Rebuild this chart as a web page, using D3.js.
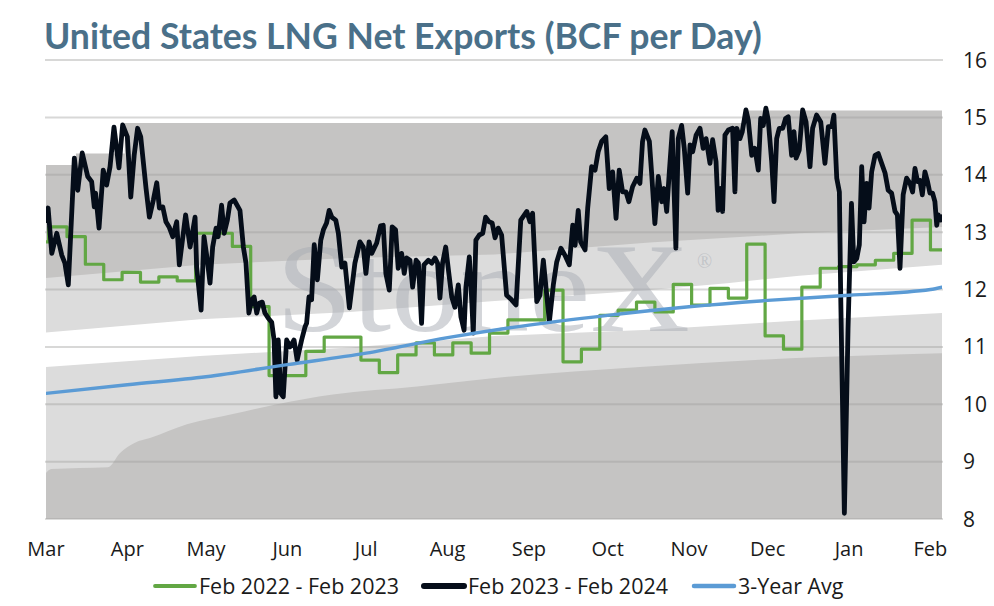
<!DOCTYPE html>
<html><head><meta charset="utf-8">
<script src="https://cdn.jsdelivr.net/npm/d3@7"></script>
<style>body{margin:0;background:#fff;} svg{display:block;font-family:"Open Sans",Lato,sans-serif;}</style>
</head><body><svg id="c" width="994" height="606"></svg>
<script>
// ---------- data ----------
const chartTitle = "United States LNG Net Exports (BCF per Day)";
const monthLabels = ["Mar","Apr","May","Jun","Jul","Aug","Sep","Oct","Nov","Dec","Jan","Feb"];
const yTickValues = [8,9,10,11,12,13,14,15,16];
const seriesNames = ["Feb 2022 - Feb 2023","Feb 2023 - Feb 2024","3-Year Avg"];
const watermarkText = "StoneX";
const startDate = new Date(2023, 2, 1);
const endDay = 341.4;   // days after Mar 1

// Feb 2023 - Feb 2024 (daily, days after Mar 1)
const blackDays = [0,0.8,2.2,4.1,6.0,7.2,8.5,10.8,12.1,13.8,15.9,17.4,18.4,18.9,20.2,21.8,23.1,24.4,25.9,27.8,29.2,31.0,32.3,33.6,34.9,36.1,38.1,39.4,40.9,42.2,43.2,44.5,45.7,46.9,48.3,49.8,50.8,53.2,54.9,56.8,57.4,59.1,60.2,61.3,62.5,63.5,64.8,65.6,66.9,67.9,69.1,70.1,71.7,73.9,75.2,76.2,77.3,78.4,79.3,80.3,81.2,82.4,83.4,84.7,86.0,86.9,87.6,88.5,89.4,90.4,91.7,93.0,94.5,95.7,97.4,98.7,99.3,100.2,101.2,102.2,103.4,104.7,105.7,106.9,107.9,108.9,110.4,111.4,112.7,113.9,115.6,117.7,119.6,120.9,121.9,123.1,124.1,126.0,127.5,128.5,129.5,130.8,131.9,133.2,134.2,135.5,136.5,137.4,138.7,139.7,141.0,141.9,143.1,144.0,145.7,147.0,148.2,149.2,150.1,151.1,152.3,153.5,154.6,155.8,157.1,158.1,159.3,160.0,161.3,162.2,162.8,163.8,165.1,166.4,167.5,168.8,170.0,171.1,172.3,173.6,175.5,177.4,179.1,180.9,183.2,184.4,185.4,187.0,188.2,189.5,190.8,191.8,193.3,194.6,196.2,197.7,199.4,200.7,201.6,202.8,203.7,205.4,206.4,207.9,209.2,210.4,211.7,213.3,214.6,215.9,217.2,218.4,219.7,221.0,222.1,223.5,225.1,226.3,227.3,228.2,229.9,230.8,232.0,233.3,234.6,235.5,236.5,237.5,238.6,240.0,240.9,242.2,243.2,244.5,245.4,246.4,247.7,249.2,250.4,251.5,253.0,254.0,255.3,256.1,257.1,257.8,258.7,260.0,261.6,262.5,263.2,264.4,265.3,266.7,267.6,268.9,270.1,271.4,272.3,273.3,274.3,275.2,276.5,277.4,278.4,279.4,280.7,281.8,282.8,284.1,285.0,285.8,287.0,288.3,289.6,291.1,292.1,293.6,295.2,296.8,298.1,299.4,300.2,301.3,302.3,302.8,304.2,305.6,306.9,307.8,308.9,309.9,310.8,311.7,312.7,313.6,314.6,315.9,317.1,318.4,319.7,320.9,322.2,323.5,324.4,325.4,326.6,327.9,329.2,330.2,331.1,332.1,333.0,333.9,334.9,335.9,336.8,337.8,338.7,339.4,340.0,340.9,341.4];
const blackValues = [13.2,13.42,12.63,12.98,12.6,12.46,12.08,14.29,13.73,14.38,13.97,13.88,13.44,13.68,13.07,14.08,13.82,14.14,14.83,14.12,14.87,14.66,13.61,14.34,14.81,14.66,13.77,13.26,13.56,13.86,13.42,13.44,13.18,13.09,12.92,13.18,12.43,13.3,12.74,13.26,12.39,11.64,12.92,12.57,12.11,12.74,13.07,12.92,13.47,12.98,13.21,13.51,13.56,13.38,12.74,12.46,11.59,11.82,11.87,11.59,11.76,11.78,11.59,11.5,11.43,11.12,10.13,11.12,10.19,10.13,11.12,11.0,11.12,10.77,11.12,11.35,11.41,11.87,11.82,12.78,12.17,12.86,13.04,13.16,13.38,13.26,13.21,12.98,12.39,12.46,11.68,12.46,12.83,12.74,12.28,12.83,12.63,12.81,13.11,13.12,12.28,11.99,13.09,13.04,12.37,12.63,12.28,12.55,12.51,12.04,12.51,12.46,11.41,12.43,12.51,12.46,12.55,12.46,11.85,12.46,12.74,12.28,11.87,11.69,12.08,11.52,11.29,12.04,12.57,11.82,11.24,12.86,12.95,12.98,13.26,13.18,13.16,12.9,13.07,12.95,11.9,11.82,11.73,13.21,13.36,13.18,13.33,11.79,11.9,12.51,11.9,11.44,12.08,12.48,12.72,12.6,12.43,13.12,12.77,13.38,12.83,12.69,13.42,14.14,14.08,14.4,14.58,14.66,13.76,14.05,13.24,14.08,13.7,13.7,13.53,13.79,13.94,13.85,14.58,14.78,14.58,14.0,13.15,13.97,13.53,13.76,13.36,14.05,14.75,12.72,14.63,14.86,14.46,13.68,14.52,14.4,14.69,14.81,14.46,14.63,14.2,14.61,14.23,13.38,13.76,13.36,14.69,14.78,14.81,13.7,14.81,14.63,14.75,15.13,14.95,14.34,14.46,14.08,14.98,14.86,15.16,14.95,14.23,13.53,14.63,14.81,14.81,14.98,15.01,14.34,14.75,14.29,14.43,15.13,14.92,14.14,14.81,15.04,14.92,14.2,14.84,14.84,15.04,13.94,13.7,11.9,8.1,11.32,13.5,12.48,12.54,12.78,14.14,13.18,13.85,13.42,14.05,14.34,14.37,14.2,14.03,13.73,13.68,13.36,13.3,12.37,13.65,13.94,13.85,13.7,14.11,13.88,13.9,13.65,14.05,13.88,13.68,13.68,13.53,13.12,13.3,13.21,13.27];

// Feb 2022 - Feb 2023 (weekly)
const greenFirstValue = 12.83;
const greenFirstWeekDay = 1;
const greenWeekly = [13.09,12.92,12.44,12.17,12.30,12.13,12.22,12.15,12.98,12.98,12.75,11.70,10.5,10.5,10.92,11.17,11.17,10.77,10.55,10.86,11.07,10.86,11.07,10.89,11.24,11.47,11.47,11.99,10.74,10.96,11.55,11.64,11.78,11.61,12.09,11.73,12.02,11.85,12.79,11.19,10.96,12.04,12.37,12.40,12.43,12.51,12.63,13.21,12.69];

// 3-Year Avg
const blueDays = [0,31,61,92,122,153,184,214,245,275,306,337,341.4];
const blueValues = [10.19,10.34,10.48,10.69,10.89,11.16,11.38,11.55,11.70,11.81,11.90,12.00,12.04];

// historical range bands (boundaries from top to bottom)
const maxDays = [0,11.4,30,266,341.4];
const maxValues = [14.17,14.37,14.9,15.12,15.12];
const bandDays = [0,58.7,115.8,171,230,259.5,287,341.4];
const upperQValues = [12.2,12.43,12.55,12.61,12.82,12.9,12.98,13.09];
const upperMidValues = [11.25,11.48,11.61,11.8,11.99,12.11,12.24,12.43];
const lowerMidValues = [10.65,10.84,10.99,11.19,11.3,11.38,11.46,11.59];
const lowQDays = [0,2,23.6,28.2,33.9,39.6,53.7,71.2,88,109.3,141.4,169.2,226.3,283.5,341.4];
const lowQValues = [8.8,8.87,8.9,9.15,9.33,9.41,9.65,9.83,10.0,10.17,10.31,10.45,10.65,10.8,10.89];

// ---------- drawing ----------
const svg = d3.select("#c");
const L = 46, R = 942, T = 60, B = 519;
const dayToDate = d => new Date(startDate.getTime() + d * 864e5);
const x = d3.scaleTime().domain([startDate, dayToDate(endDay)]).range([L, R]);
const y = d3.scaleLinear().domain([8, 16]).range([B, T]);

const C = {dark:"#c5c4c3", light:"#dcdcdc", white:"#ffffff", green:"#62a744", black:"#050d19", blue:"#5b9bd5", title:"#4a7089", text:"#1a1a1a"};

const plot = svg.append("g");
svg.append("clipPath").attr("id","pc").append("rect").attr("x",L).attr("y",T-5).attr("width",R-L).attr("height",B-T+5);

function bandArea(days, vals, color, curve){
  const pts = days.map((d,i)=>[d, vals[i]]);
  const area = d3.area().x(p=>x(dayToDate(p[0]))).y0(y(8)).y1(p=>y(p[1])).curve(curve||d3.curveLinear);
  plot.append("path").datum(pts).attr("d", area).attr("fill", color);
}
bandArea(maxDays, maxValues, C.dark, d3.curveStepAfter);
bandArea(bandDays, upperQValues, C.light);
bandArea(bandDays, upperMidValues, C.white);
bandArea(bandDays, lowerMidValues, C.light);
bandArea(lowQDays, lowQValues, C.dark, d3.curveMonotoneX);

// gridlines
svg.append("g").selectAll("line").data(yTickValues).join("line")
  .attr("x1", L-1).attr("x2", R+1).attr("y1", d=>y(d)).attr("y2", d=>y(d))
  .attr("stroke", "#9e9d9c").attr("stroke-opacity", d=> d===8 ? 0.35 : 0.4).attr("stroke-width", 2);

// watermark
const wm = svg.append("text").attr("x", 276).attr("y", 331)
  .attr("font-family", "'Liberation Serif','DejaVu Serif',serif").attr("font-size", 128)
  .attr("fill", "#a7abb3").attr("fill-opacity", 0.5).text(watermarkText);
wm.attr("textLength", 414).attr("lengthAdjust", "spacingAndGlyphs");
svg.append("text").attr("x", 697).attr("y", 268)
  .attr("font-family", "'Liberation Serif',serif").attr("font-size", 20)
  .attr("fill", "#a7abb3").attr("fill-opacity", 0.5).text("®");

// series
const lines = svg.append("g").attr("clip-path","url(#pc)");
const greenPts = [[0, greenFirstValue]].concat(greenWeekly.map((v,k)=>[greenFirstWeekDay + 7*k, v]));
greenPts.push([endDay, greenWeekly[greenWeekly.length-1]]);
const lineGen = curve => d3.line().x(p=>x(dayToDate(p[0]))).y(p=>y(p[1])).curve(curve);
lines.append("path").datum(greenPts).attr("d", lineGen(d3.curveStepAfter))
  .attr("fill","none").attr("stroke", C.green).attr("stroke-width", 3.2).attr("stroke-linejoin","round");
const blackPts = blackDays.map((d,i)=>[d, blackValues[i]]);
lines.append("path").datum(blackPts).attr("d", lineGen(d3.curveLinear))
  .attr("fill","none").attr("stroke", C.black).attr("stroke-width", 4.8).attr("stroke-linejoin","round").attr("stroke-linecap","round");
const bluePts = blueDays.map((d,i)=>[d, blueValues[i]]);
lines.append("path").datum(bluePts).attr("d", lineGen(d3.curveMonotoneX))
  .attr("fill","none").attr("stroke", C.blue).attr("stroke-width", 3.4).attr("stroke-linecap","round");

// title
const t = svg.append("text").attr("x", 44).attr("y", 49).attr("font-family","Lato,sans-serif")
  .attr("font-weight", 700).attr("font-size", 30).attr("fill", C.title).text(chartTitle);
{ const w = t.node().getComputedTextLength(); t.attr("font-size", 30 * 718 / w); }

// y axis labels (right)
svg.append("g").selectAll("text").data(yTickValues).join("text")
  .attr("x", 963).attr("y", d=>y(d)).attr("dy","0.36em").attr("font-size", 21)
  .attr("fill", C.text).text(d=>d);

// x axis labels
const monthDates = d3.timeMonth.range(startDate, dayToDate(endDay));
svg.append("g").selectAll("text").data(monthDates).join("text")
  .attr("x", d=>x(d)).attr("y", 556).attr("text-anchor","middle").attr("font-size", 20)
  .attr("fill", C.text).text((d,i)=>monthLabels[i]);

// legend
const legendItems = [
  {name: seriesNames[0], color: C.green, w: 3.8, x0: 153},
  {name: seriesNames[1], color: C.black, w: 6, x0: 422},
  {name: seriesNames[2], color: C.blue, w: 4.5, x0: 692}
];
const lg = svg.append("g");
const lgTexts = [];
legendItems.forEach(it=>{
  lg.append("line").attr("x1", it.x0+2).attr("x2", it.x0+42).attr("y1", 586).attr("y2", 586)
    .attr("stroke", it.color).attr("stroke-width", it.w).attr("stroke-linecap","round");
  lgTexts.push(lg.append("text").attr("x", it.x0+46).attr("y", 586).attr("dy","0.36em").attr("font-size", 20)
    .attr("fill", C.text).text(it.name));
});
{ const w = lgTexts[0].node().getComputedTextLength(); const fs = 20 * 200 / w; lgTexts.forEach(s=>s.attr("font-size", fs)); }
</script></body></html>
